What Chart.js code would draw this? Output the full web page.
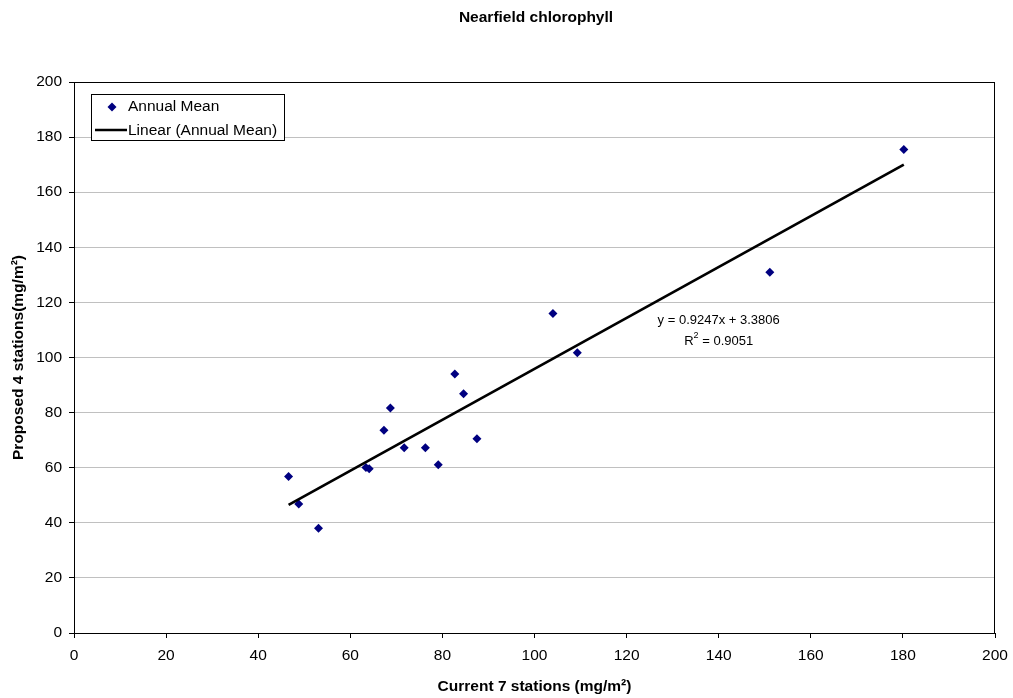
<!DOCTYPE html>
<html>
<head>
<meta charset="utf-8">
<title>Nearfield chlorophyll</title>
<script src="https://cdn.jsdelivr.net/npm/chart.js@4"></script>
<style>
  html, body { margin: 0; padding: 0; background: #fff; }
  #wrap { width: 1013px; height: 698px; position: relative; }
</style>
</head>
<body>
<div id="wrap"><canvas id="scatterChart" width="1013" height="698"></canvas></div>
<script>
const currentStations = [46.6, 48.8, 53.1, 63.4, 64.1, 67.3, 68.7, 71.7, 76.3, 79.1, 82.7, 84.6, 87.5, 104.0, 109.3, 151.1, 180.2];
const proposedStations = [56.8, 46.8, 38.0, 60.1, 59.6, 73.6, 81.7, 67.2, 67.2, 61.1, 94.0, 86.8, 70.5, 116.0, 101.7, 130.9, 175.5];
const trendX = [46.6, 180.2];
const trendY = [46.5, 170.0];
const equationText = 'y = 0.9247x + 3.3806';
const r2Text = ' = 0.9051';
const axisTicks = [0, 20, 40, 60, 80, 100, 120, 140, 160, 180, 200];

const FONT = '"Liberation Sans", Arial, sans-serif';

// title, frame, equation and the inline legend box
const decorations = {
  id: 'decorations',
  afterDraw(chart) {
    const { ctx, chartArea: area, scales } = chart;
    ctx.save();
    ctx.strokeStyle = '#000';
    ctx.lineWidth = 1;
    ctx.strokeRect(area.left + 0.5, area.top + 0.5, area.right - area.left - 1, area.bottom - area.top);

    ctx.fillStyle = '#000';
    ctx.font = `bold 15.5px ${FONT}`;
    ctx.textAlign = 'center';
    ctx.textBaseline = 'middle';
    ctx.fillText('Nearfield chlorophyll', 536, 18);

    // regression label
    ctx.font = `13px ${FONT}`;
    const ex = scales.x.getPixelForValue(140);
    const ey = scales.y.getPixelForValue(113.3);
    ctx.fillText(equationText, ex, ey);
    const r2y = ey + 21;
    const wR = ctx.measureText('R').width;
    ctx.font = `9px ${FONT}`;
    const wSup = ctx.measureText('2').width;
    ctx.font = `13px ${FONT}`;
    const wRest = ctx.measureText(r2Text).width;
    const sx = ex - (wR + wSup + wRest) / 2;
    ctx.textAlign = 'left';
    ctx.fillText('R', sx, r2y);
    ctx.font = `9px ${FONT}`;
    ctx.fillText('2', sx + wR, r2y - 6);
    ctx.font = `13px ${FONT}`;
    ctx.fillText(r2Text, sx + wR + wSup, r2y);

    // legend
    ctx.fillStyle = '#fff';
    ctx.fillRect(91, 94, 194, 47);
    ctx.strokeRect(91.5, 94.5, 193, 46);
    ctx.fillStyle = '#000080';
    ctx.beginPath();
    ctx.moveTo(112, 102.5);
    ctx.lineTo(116.5, 107);
    ctx.lineTo(112, 111.5);
    ctx.lineTo(107.5, 107);
    ctx.closePath();
    ctx.fill();
    ctx.strokeStyle = '#000';
    ctx.lineWidth = 2.5;
    ctx.beginPath();
    ctx.moveTo(95, 130);
    ctx.lineTo(127, 130);
    ctx.stroke();
    ctx.fillStyle = '#000';
    ctx.font = `15.5px ${FONT}`;
    ctx.fillText('Annual Mean', 128, 107);
    ctx.fillText('Linear (Annual Mean)', 128, 131);
    ctx.restore();
  }
};

new Chart(document.getElementById('scatterChart').getContext('2d'), {
  type: 'scatter',
  data: {
    datasets: [
      {
        label: 'Annual Mean',
        data: currentStations.map((x, i) => ({ x, y: proposedStations[i] })),
        pointStyle: 'rectRot',
        pointRadius: 4.5,
        backgroundColor: '#000080',
        borderColor: '#000080',
        borderWidth: 0,
        order: 2,
      },
      {
        label: 'Linear (Annual Mean)',
        type: 'line',
        data: trendX.map((x, i) => ({ x, y: trendY[i] })),
        borderColor: '#000',
        borderWidth: 2.7,
        pointRadius: 0,
        fill: false,
        order: 1,
      },
    ],
  },
  options: {
    responsive: false,
    animation: false,
    layout: { padding: { left: 0, right: 18, top: 82, bottom: 0 } },
    plugins: {
      legend: { display: false },
      tooltip: { enabled: false },
    },
    scales: {
      x: {
        type: 'linear',
        min: 0,
        max: 200,
        afterBuildTicks: (s) => { s.ticks = axisTicks.map((v) => ({ value: v })); },
        afterFit: (s) => { s.height = 65; s.paddingRight = 0; s.paddingLeft = 0; },
        ticks: { color: '#000', font: { family: FONT, size: 15.5 }, padding: 8, maxRotation: 0 },
        grid: { drawOnChartArea: false, drawTicks: true, tickLength: 5, tickColor: '#000' },
        border: { color: '#000' },
        title: {
          display: true,
          text: 'Current 7 stations (mg/m²)',
          color: '#000',
          font: { family: FONT, size: 15.5, weight: 'bold' },
          padding: { top: 2, bottom: 2 },
        },
      },
      y: {
        type: 'linear',
        min: 0,
        max: 200,
        afterBuildTicks: (s) => { s.ticks = axisTicks.map((v) => ({ value: v })); },
        afterFit: (s) => { s.width = 74; s.paddingTop = 0; s.paddingBottom = 0; },
        ticks: { color: '#000', font: { family: FONT, size: 15.5 }, padding: 7 },
        grid: { color: '#c0c0c0', drawTicks: true, tickLength: 5, tickColor: '#000' },
        border: { color: '#000' },
        title: {
          display: true,
          text: 'Proposed 4 stations(mg/m²)',
          color: '#000',
          font: { family: FONT, size: 15.5, weight: 'bold' },
          padding: { top: 9, bottom: 2 },
        },
      },
    },
  },
  plugins: [decorations],
});
</script>
</body>
</html>
